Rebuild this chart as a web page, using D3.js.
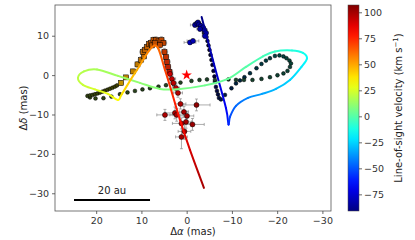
<!DOCTYPE html>
<html>
<head>
<meta charset="utf-8">
<script src="https://cdn.jsdelivr.net/npm/d3@7"></script>
<style>
  html, body { margin: 0; padding: 0; background: #fff; }
  svg { display: block; font-family: "DejaVu Sans", sans-serif; }
</style>
</head>
<body>
<svg id="chart" width="415" height="240"></svg>
<script>
/* ── modelo (curva coloreada por velocidad) ── */
const modelRA  = [-3.31, -6.03, -8.68, -9.24, -9.57, -10.90, -13.55, -16.64, -19.73, -22.83, -25.37, -26.59, -25.70, -23.27, -19.51, -16.86, -13.10, -9.13, -4.04, 1.48, 5.90, 10.32, 15.18, 19.82, 22.70, 24.02, 22.92, 20.27, 17.39, 15.18, 14.30, 10.98, 7.02, 4.80, 1.48, -0.73, -3.82];
const modelDec = [14.78, 2.84, -8.33, -12.52, -10.61, -7.82, -5.79, -4.77, -3.50, -1.22, 2.08, 4.24, 5.64, 6.27, 6.02, 4.75, 2.08, -0.96, -2.61, -3.50, -3.50, -1.98, -0.20, 1.45, 0.94, -0.71, -2.49, -3.63, -4.77, -6.30, -4.77, 1.32, 7.54, 1.32, -11.37, -18.99, -28.63];
const modelVel = [-90, -78, -68, -60, -52, -46, -40, -35, -30, -25, -20, -16, -13, -10, -6, -3, 0, 3, 5, 7, 9, 11, 14, 16, 18, 20, 22, 25, 29, 33, 38, 48, 60, 70, 80, 90, 100];

/* ── puntos pequeños del trazado ── */
const trackRA  = [-3.82, -4.38, -4.60, -4.82, -5.04, -5.26, -5.48, -5.70, -5.92, -6.14, -6.25, -6.47, -6.70, -6.92, -7.14, -7.58, -8.46, -9.90, -10.90, -11.78, -12.77, -14.00, -15.43, -16.53, -17.52, -18.41, -19.51, -20.51, -21.39, -22.06, -22.72, -23.05, -22.83, -22.28, -21.39, -20.07, -18.41, -16.53, -14.54, -12.66, -10.90, -9.24, -6.25, -4.49, -2.83, -1.06, 1.37, 2.92, 4.57, 6.23, 8.11, 9.77, 11.43, 13.08, 14.74, 16.62, 18.39, 20.15, 21.37, 21.92, 21.37, 20.82, 20.27, 19.71, 19.16, 18.61, 18.06, 17.50, 16.95, 16.40, 15.85, 15.40];
const trackDec = [10.71, 9.70, 8.68, 7.54, 6.40, 5.13, 3.86, 2.59, 1.07, -0.33, -1.73, -3.00, -4.01, -4.90, -5.79, -6.17, -5.03, -3.33, -2.11, -1.35, -0.53, 0.48, 1.75, 2.84, 3.68, 4.29, 4.87, 5.00, 4.75, 4.29, 3.68, 2.97, 2.08, 1.07, 0.43, -0.03, -0.53, -0.96, -1.22, -1.22, -1.22, -1.09, -1.22, -1.09, -1.22, -1.47, -1.90, -2.23, -2.56, -2.92, -3.33, -3.63, -4.01, -4.39, -4.85, -5.46, -5.86, -5.92, -5.66, -5.28, -5.15, -5.03, -4.85, -4.65, -4.44, -4.19, -3.93, -3.71, -3.45, -3.20, -2.92, -2.61];
const trackVel = [-86, -85, -84, -83, -81, -79, -77, -75, -72, -70, -67, -64, -61, -58, -55, -52, -48, -44, -40, -37, -34, -31, -28, -25, -22, -20, -18, -16, -14, -12, -10, -9, -8, -7, -6, -5, -4, -2, -1, 0, 1, 2, 3, 4, 5, 6, 7, 8, 9, 10, 11, 12, 13, 14, 15, 16, 17, 18, 19, 20, 21, 22, 23, 24, 25, 26, 27, 27, 28, 29, 29, 30];

/* ── cuadrados con barras de error ── */
const sqRA  = [14.52, 13.41, 11.86, 10.87, 10.10, 9.44, 9.66, 9.21, 8.77, 8.33, 7.89, 7.34, 6.78, 6.23, 5.57, 5.13, 7.67, 7.00, 5.90, 4.91, 4.57, 4.35, 4.13, 3.80];
const sqDec = [-1.98, -0.58, 0.94, 2.72, 3.86, 4.75, 5.89, 6.40, 7.16, 7.92, 8.17, 8.94, 8.94, 8.56, 8.94, 8.17, 7.54, 8.17, 7.67, 5.89, 4.62, 3.35, 2.08, 0.81];
const sqVel = [45, 47, 49, 51, 53, 55, 56, 57, 58, 59, 60, 61, 62, 63, 64, 65, 60, 62, 64, 68, 70, 72, 74, 76];
const sqErrRA  = [0.5, 0.5, 0.6, 0.5, 0.6, 0.5, 0.7, 0.6, 0.6, 0.5, 0.6, 0.5, 0.6, 0.5, 0.6, 0.7, 0.5, 0.6, 0.6, 0.7, 0.6, 0.7, 0.6, 0.7];
const sqErrDec = [0.6, 0.5, 0.6, 0.7, 0.8, 0.6, 0.9, 0.8, 0.7, 0.7, 0.8, 0.7, 0.8, 0.6, 0.8, 0.7, 0.6, 0.7, 0.8, 0.9, 0.8, 1.0, 0.9, 1.0];

/* ── círculos rojos con barras de error ── */
const redRA  = [3.69, 3.25, 2.92, 2.36, 1.92, 1.37, 2.59, 0.60, -0.07, -2.17, 0.15, -1.28, 1.15, 0.49, 1.15, 4.80, 2.21];
const redDec = [0.30, -0.96, -1.98, -3.25, -4.52, -7.31, -9.60, -9.34, -10.36, -7.57, -11.88, -12.52, -12.26, -14.29, -15.69, -10.10, -10.10];
const redVel = [92, 94, 95, 96, 97, 98, 99, 100, 101, 104, 100, 102, 99, 101, 100, 98, 99];
const redErrRA  = [0.6, 0.8, 0.7, 0.8, 1.0, 1.2, 2.2, 1.0, 1.5, 3.0, 1.2, 2.6, 2.0, 1.4, 1.3, 1.8, 1.5];
const redErrDec = [1.2, 1.0, 0.9, 1.0, 1.1, 1.3, 1.5, 1.4, 1.2, 1.5, 1.6, 1.5, 1.4, 2.0, 3.0, 1.4, 1.6];

/* ── círculos azules con barras de error ── */
const blueRA  = [-0.73, -1.39, -1.83, -2.28, -2.50, -2.72, -3.16, -3.60, -3.93, -4.27, -2.94, -4.04];
const blueDec = [8.30, 8.68, 12.74, 13.13, 13.38, 12.87, 12.49, 12.11, 11.47, 10.71, 11.73, 9.95];
const blueVel = [-80, -81, -84, -85, -86, -85, -84, -83, -83, -82, -84, -82];
const blueErrRA  = [1.3, 1.3, 1.0, 0.6, 0.6, 0.5, 0.6, 0.5, 0.6, 0.5, 0.7, 0.6];
const blueErrDec = [0.5, 0.5, 0.6, 0.5, 0.5, 0.6, 0.5, 0.6, 0.7, 0.6, 0.6, 0.7];

/* ticks y barra de escala */
const xTicks = [20, 10, 0, -10, -20, -30];
const yTicks = [10, 0, -10, -20, -30];
const cTicks = [100, 75, 50, 25, 0, -25, -50, -75];
const scaleBarRA = [24.9, 8.1];
const scaleBarDec = -31.7;
const scaleBarLabel = "20 au";

/* ── escalas ── */
const svg = d3.select("#chart");
const x = d3.scaleLinear().domain([29.1, -31.9]).range([55, 331]);
const y = d3.scaleLinear().domain([-34.5, 17.8]).range([211, 5]);
const vDomain = [-91, 107];
const cY = d3.scaleLinear().domain(vDomain).range([211, 5]);
const vNorm = d3.scaleLinear().domain(vDomain).range([0, 1]).clamp(true);

// mapa de color "jet"
function jet(v) {
  const t = vNorm(v);
  const c = k => Math.max(0, Math.min(1, k));
  return d3.rgb(255 * c(1.5 - Math.abs(4 * t - 3)),
                255 * c(1.5 - Math.abs(4 * t - 2)),
                255 * c(1.5 - Math.abs(4 * t - 1)));
}
const shade = (v, k) => d3.interpolateRgb(jet(v), "#000")(k);
const fmt = d => d < 0 ? "\u2212" + Math.abs(d) : String(d);

const defs = svg.append("defs");
defs.append("clipPath").attr("id", "clipPlot")
  .append("rect").attr("x", 55).attr("y", 5).attr("width", 276).attr("height", 206);

const plot = svg.append("g").attr("clip-path", "url(#clipPlot)");

/* puntos del trazado */
plot.append("g").selectAll("circle")
  .data(trackRA.map((d, i) => ({ ra: d, dec: trackDec[i], v: trackVel[i] })))
  .join("circle")
  .attr("cx", d => x(d.ra)).attr("cy", d => y(d.dec)).attr("r", 1.9)
  .attr("fill", d => shade(d.v, 0.74))
  .attr("stroke", "#000").attr("stroke-width", 0.5);

/* barras de error + marcadores */
function errorSet(ra, dec, vel, eRA, eDec) {
  return ra.map((d, i) => ({ ra: d, dec: dec[i], v: vel[i], ex: eRA[i], ey: eDec[i] }));
}
const sqData   = errorSet(sqRA, sqDec, sqVel, sqErrRA, sqErrDec);
const redData  = errorSet(redRA, redDec, redVel, redErrRA, redErrDec);
const blueData = errorSet(blueRA, blueDec, blueVel, blueErrRA, blueErrDec);

const gErr = plot.append("g").attr("stroke", "#8a8a8a").attr("stroke-width", 0.7).attr("fill", "none");
[...sqData, ...redData, ...blueData].forEach(d => {
  const cx = x(d.ra), cy = y(d.dec);
  const x0 = x(d.ra + d.ex), x1 = x(d.ra - d.ex);
  const y0 = y(d.dec + d.ey), y1 = y(d.dec - d.ey);
  gErr.append("path").attr("d",
    `M${x0},${cy}H${x1}M${cx},${y0}V${y1}` +
    `M${x0},${cy - 1.5}V${cy + 1.5}M${x1},${cy - 1.5}V${cy + 1.5}` +
    `M${cx - 1.5},${y0}H${cx + 1.5}M${cx - 1.5},${y1}H${cx + 1.5}`);
});

plot.append("g").selectAll("rect")
  .data(sqData).join("rect")
  .attr("x", d => x(d.ra) - 2.5).attr("y", d => y(d.dec) - 2.5)
  .attr("width", 5).attr("height", 5)
  .attr("fill", d => shade(d.v, 0.25))
  .attr("stroke", "#000").attr("stroke-width", 0.5);

plot.append("g").selectAll("circle")
  .data([...redData, ...blueData]).join("circle")
  .attr("cx", d => x(d.ra)).attr("cy", d => y(d.dec)).attr("r", 2.5)
  .attr("fill", d => jet(d.v))
  .attr("stroke", "#000").attr("stroke-width", 0.5);

/* curva del modelo: tramos Catmull-Rom con degradado */
const pts = modelRA.map((d, i) => [x(d), y(modelDec[i]), modelVel[i]]);
const gModel = plot.append("g").attr("fill", "none").attr("stroke-width", 2).attr("stroke-linecap", "round");
for (let i = 0; i < pts.length - 1; i++) {
  const p0 = pts[Math.max(0, i - 1)], p1 = pts[i], p2 = pts[i + 1], p3 = pts[Math.min(pts.length - 1, i + 2)];
  const c1 = [p1[0] + (p2[0] - p0[0]) / 6, p1[1] + (p2[1] - p0[1]) / 6];
  const c2 = [p2[0] - (p3[0] - p1[0]) / 6, p2[1] - (p3[1] - p1[1]) / 6];
  const grad = defs.append("linearGradient").attr("id", "seg" + i)
    .attr("gradientUnits", "userSpaceOnUse")
    .attr("x1", p1[0]).attr("y1", p1[1]).attr("x2", p2[0]).attr("y2", p2[1]);
  grad.append("stop").attr("offset", 0).attr("stop-color", jet(p1[2]));
  grad.append("stop").attr("offset", 1).attr("stop-color", jet(p2[2]));
  gModel.append("path")
    .attr("d", `M${p1[0]},${p1[1]}C${c1[0]},${c1[1]} ${c2[0]},${c2[1]} ${p2[0]},${p2[1]}`)
    .attr("stroke", `url(#seg${i})`);
}

/* estrella central */
plot.append("path")
  .attr("d", d3.symbol(d3.symbolStar, 34)())
  .attr("transform", `translate(${x(0)},${y(0)})`)
  .attr("fill", "#ff0000");

/* barra de escala */
svg.append("line")
  .attr("x1", x(scaleBarRA[0])).attr("x2", x(scaleBarRA[1]))
  .attr("y1", y(scaleBarDec)).attr("y2", y(scaleBarDec))
  .attr("stroke", "#000").attr("stroke-width", 2);
svg.append("text")
  .attr("x", (x(scaleBarRA[0]) + x(scaleBarRA[1])) / 2).attr("y", y(scaleBarDec) - 6)
  .attr("text-anchor", "middle").attr("font-size", 10).attr("fill", "#222")
  .text(scaleBarLabel);

/* marco */
svg.append("rect").attr("x", 55).attr("y", 5).attr("width", 276).attr("height", 206)
  .attr("fill", "none").attr("stroke", "#555").attr("stroke-width", 0.8);

/* ejes */
function styleAxis(g) {
  g.select(".domain").remove();
  g.selectAll(".tick line").attr("stroke", "#444").attr("stroke-width", 0.8);
  g.selectAll(".tick text").attr("fill", "#333").attr("font-size", 9.5)
    .attr("font-family", "DejaVu Sans, sans-serif");
}
svg.append("g").attr("transform", "translate(0,211)")
  .call(d3.axisBottom(x).tickValues(xTicks).tickSize(3).tickPadding(3).tickFormat(fmt))
  .call(styleAxis);
svg.append("g").attr("transform", "translate(55,0)")
  .call(d3.axisLeft(y).tickValues(yTicks).tickSize(3).tickPadding(3).tickFormat(fmt))
  .call(styleAxis);

/* etiquetas de ejes */
const xl = svg.append("text").attr("x", 193).attr("y", 234.5).attr("text-anchor", "middle")
  .attr("font-size", 10).attr("fill", "#222");
xl.append("tspan").text("\u0394");
xl.append("tspan").attr("font-style", "italic").text("\u03b1");
xl.append("tspan").text(" (mas)");

const yl = svg.append("text").attr("transform", "translate(23,108) rotate(-90)")
  .attr("dy", "0.35em").attr("text-anchor", "middle").attr("font-size", 10).attr("fill", "#222");
yl.append("tspan").text("\u0394");
yl.append("tspan").attr("font-style", "italic").text("\u03b4");
yl.append("tspan").text(" (mas)");

/* barra de color */
const cbGrad = defs.append("linearGradient").attr("id", "cbGrad")
  .attr("x1", 0).attr("y1", 1).attr("x2", 0).attr("y2", 0);
d3.range(0, 1.0001, 0.05).forEach(t => {
  cbGrad.append("stop").attr("offset", t)
    .attr("stop-color", jet(vDomain[0] + t * (vDomain[1] - vDomain[0])));
});
svg.append("rect").attr("x", 348).attr("y", 5).attr("width", 11).attr("height", 206)
  .attr("fill", "url(#cbGrad)").attr("stroke", "#444").attr("stroke-width", 0.5);
svg.append("g").attr("transform", "translate(359,0)")
  .call(d3.axisRight(cY).tickValues(cTicks).tickSize(3).tickPadding(2).tickFormat(fmt))
  .call(styleAxis);

const cl = svg.append("text").attr("transform", "translate(398,108) rotate(-90)")
  .attr("dy", "0.35em").attr("text-anchor", "middle").attr("font-size", 10).attr("fill", "#222");
cl.append("tspan").text("Line-of-sight velocity (km s");
cl.append("tspan").attr("font-size", 7).attr("dy", "-0.55em").text("\u22121");
cl.append("tspan").attr("dy", "0.4em").text(")");
</script>
</body>
</html>
